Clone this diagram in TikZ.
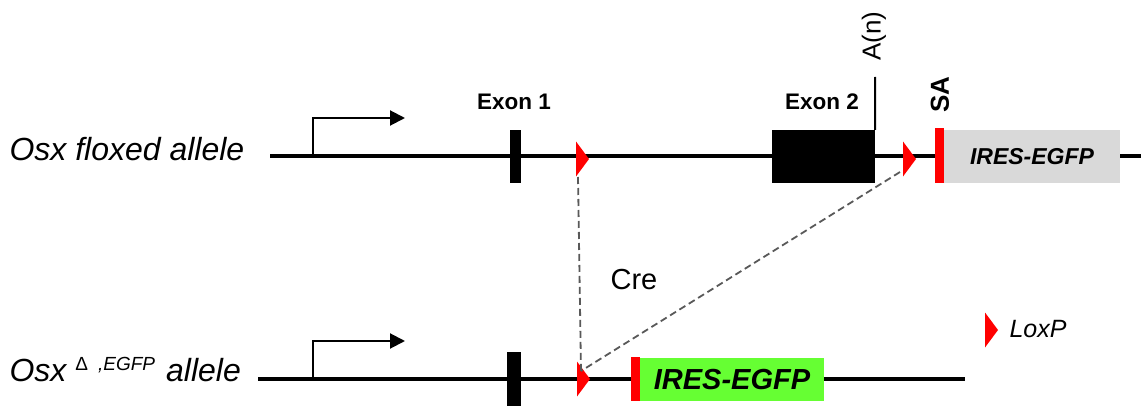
\documentclass[tikz,border=0pt]{standalone}
\usepackage{fontspec}
\setmainfont{Liberation Sans}
\usetikzlibrary{arrows.meta}
\definecolor{egfpgreen}{HTML}{66FF33}
\definecolor{boxgray}{HTML}{D9D9D9}
\definecolor{dashgray}{HTML}{595959}
\tikzset{
  dna/.style={line width=3.2pt},
  promoter/.style={line width=2pt, -{Triangle[length=15pt,width=15pt]}},
  exon/.style={fill=black, inner sep=0pt},
  sabar/.style={fill=red, inner sep=0pt, minimum width=9pt},
  cassette/.style={inner sep=0pt, font=\bfseries\itshape},
  exonlabel/.style={font=\fontsize{22.5}{26}\selectfont\bfseries},
  allele/.style={anchor=west, font=\fontsize{32}{36}\selectfont\itshape},
  cre/.style={dashgray, line width=1.8pt, dash pattern=on 7pt off 4pt},
  loxsite/.pic={
    \fill[red] (0,-17.5) -- (13,0) -- (0,17.5) -- cycle;
    \coordinate (-bot) at (2,18);
    \coordinate (-mid) at (4,-8);
    \coordinate (-left) at (-3,13);
  }
}
\begin{document}
\begin{tikzpicture}[x=1pt,y=-1pt]
\useasboundingbox (0,0) rectangle (1143,409);

% floxed allele
\node[allele] (lab-flox) at (6,149) {Osx floxed allele};
\coordinate (top-start) at (270,156);
\coordinate (top-end) at (1141,156);
\draw[dna] (top-start) -- (top-end);

\coordinate (tss1) at (313,156);
\coordinate (tss1-end) at (405,118);
\draw[promoter] (tss1) |- (tss1-end);

\node[exon, minimum width=11pt, minimum height=53pt] (ex1) at (515.5,156.5) {};
\node[exonlabel] (ex1-lab) at (514,102) {Exon 1};
\node[exon, minimum width=103pt, minimum height=53pt] (ex2) at (823.5,156.5) {};
\node[exonlabel] (ex2-lab) at (822,102) {Exon 2};

\coordinate (polyA) at (875,77);
\draw[line width=2pt] (ex2.north east) -- (polyA);
\node[rotate=90, anchor=west, font=\fontsize{26}{28}\selectfont] (polyA-lab) at (874,64) {A(n)};

\pic (lox1) at (576,159) {loxsite};
\pic (lox2) at (903,159) {loxsite};

\node[sabar, minimum height=55pt] (sa1) at (939.5,155.5) {};
\node[rotate=90, anchor=west, font=\fontsize{26}{28}\selectfont\bfseries] (sa1-lab) at (940,116) {SA};
\node[cassette, fill=boxgray, minimum width=176pt, minimum height=53pt,
  font=\fontsize{23}{26}\selectfont\bfseries\itshape] (ires1) at (1032,156.5) {IRES-EGFP};

% recombined allele
\node[allele] (lab-del) at (6,370) {Osx\hspace{9pt}\raisebox{11pt}{\fontsize{19}{22}\selectfont\upshape Δ\hspace{10pt}\itshape,EGFP}\hspace{11pt}allele};
\coordinate (bot-start) at (258,379);
\coordinate (bot-end) at (965,379);
\draw[dna] (bot-start) -- (bot-end);

\coordinate (tss2) at (313,379);
\coordinate (tss2-end) at (405,341);
\draw[promoter] (tss2) |- (tss2-end);

\node[exon, minimum width=14pt, minimum height=54pt] (ex1-del) at (514,379) {};
\pic (lox3) at (577,379) {loxsite};
\node[sabar, minimum height=44pt] (sa2) at (635.5,379) {};
\node[cassette, fill=egfpgreen, minimum width=184pt, minimum height=43pt,
  font=\fontsize{29}{32}\selectfont\bfseries\itshape] (ires2) at (732,379.5) {IRES-EGFP};

% Cre excision
\draw[cre] (lox1-bot) -- (lox3-mid);
\draw[cre] (lox2-left) -- (lox3-mid);
\node[font=\fontsize{29}{32}\selectfont] (cre-lab) at (634,280) {Cre};

% key
\pic (lox-key) at (985,330) {loxsite};
\node[anchor=west, font=\fontsize{25}{28}\selectfont\itshape] (key-lab) at (1006,329) {LoxP};
\end{tikzpicture}
\end{document}
